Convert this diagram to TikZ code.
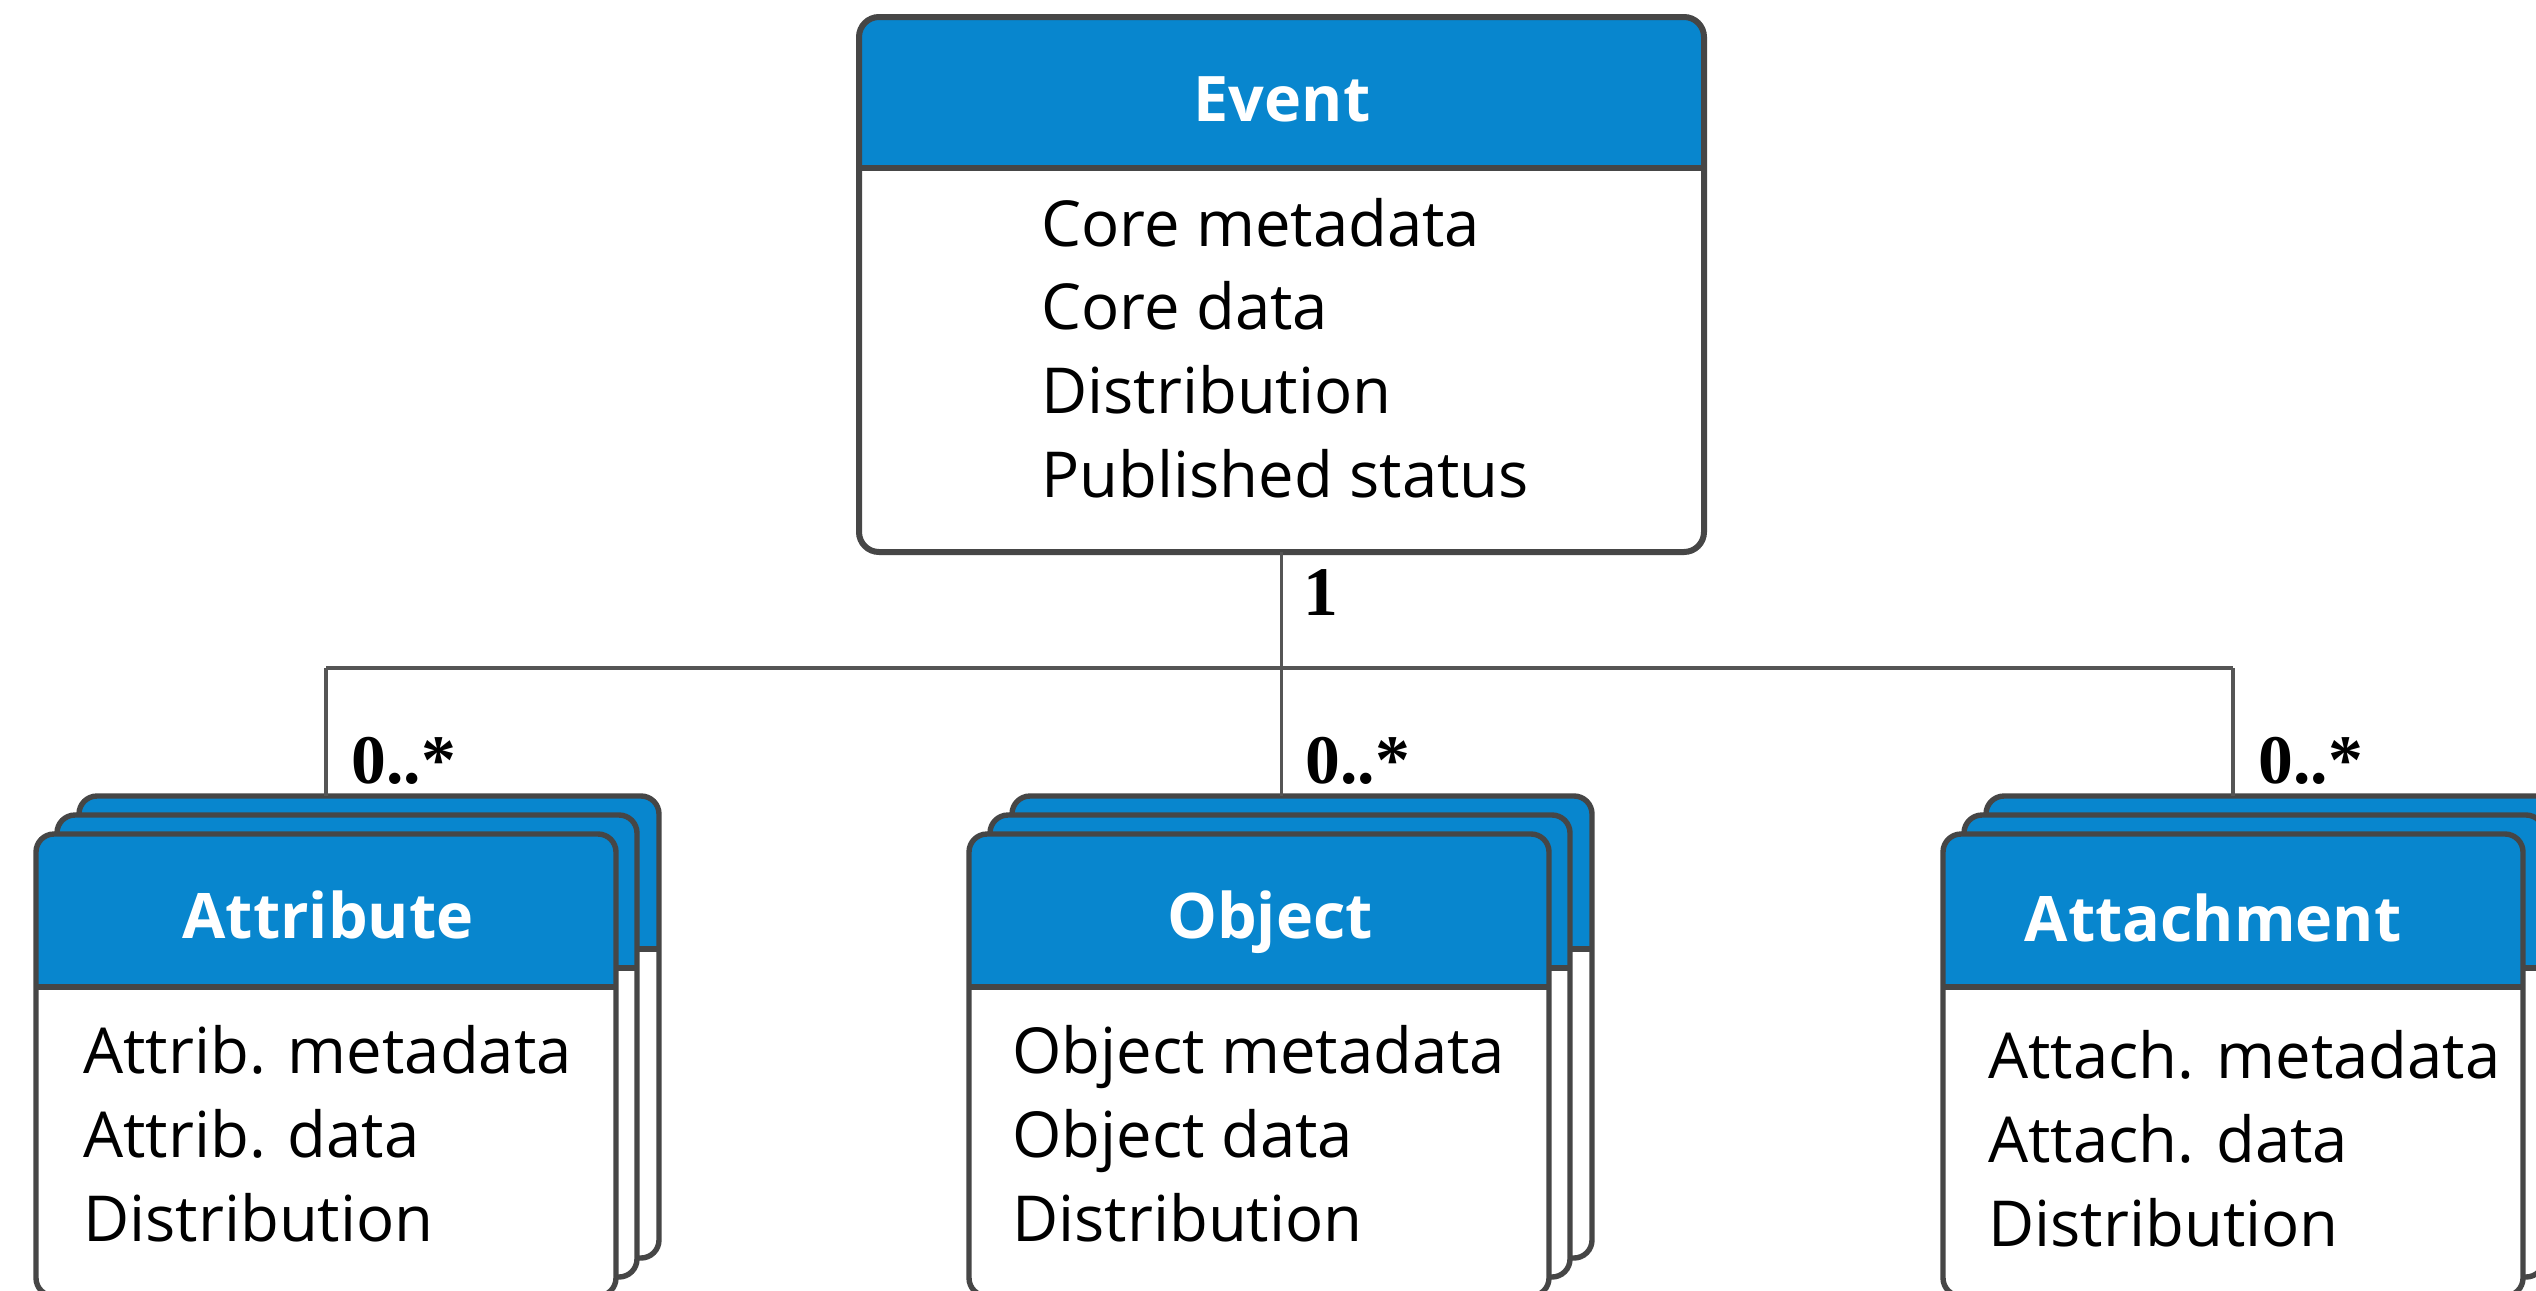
\documentclass[tikz,border=0pt]{standalone}
\usepackage{fontspec}
\newfontfamily\bodyfont{Open Sans}
\newfontfamily\multfont{Liberation Serif}
\definecolor{hdrblue}{RGB}{8,134,206}
\definecolor{edge}{RGB}{70,70,70}
\definecolor{wire}{RGB}{85,85,85}

\begin{document}
\begin{tikzpicture}[x=0.5pt,y=-0.5pt,
  % class box with a blue title band of height #1
  classbox/.style={draw=edge, line width=2.7pt, fill=white, inner sep=0pt, outer sep=0pt,
    anchor=north west,
    path picture={
      \fill[hdrblue, sharp corners] (path picture bounding box.north west)
        rectangle ([yshift=-#1]path picture bounding box.north east);
      \draw[edge, line width=2.7pt, sharp corners]
        ([yshift=-#1]path picture bounding box.north west)
        -- ([yshift=-#1]path picture bounding box.north east);
    }},
  eventbox/.style={classbox=75.5pt, rounded corners=10pt, line width=3pt,
    minimum width=422.5pt, minimum height=267.5pt},
  card/.style={classbox=76.5pt, rounded corners=9pt,
    minimum width=290pt, minimum height=231pt},
  title/.style={anchor=base, inner sep=0pt, text=white,
    font=\bodyfont\bfseries\fontsize{31.4}{37}\selectfont},
  entry/.style={anchor=base west, inner sep=0pt, text=black,
    font=\bodyfont\fontsize{31.7}{37}\selectfont},
  mult/.style={anchor=base west, inner sep=0pt, text=black,
    font=\multfont\bfseries\fontsize{34.8}{40}\selectfont},
  wire/.style={draw=wire, line width=1.9pt}
]
\useasboundingbox[fill=white] (0,0) rectangle (2536,1290);

% Event class
\node[eventbox] (event) at (859,17) {};
\node[title] (eventT) at (1282,121) {Event};
\foreach \t [count=\i from 0] in {Core metadata, Core data, Distribution, Published status}
  \node[entry] (eventL\i) at (1041,246+83.7*\i) {\t};

% level of the association bus
\coordinate (bus) at (1280,668);

% stacked Attribute cards
\node[card] (attrB) at (79,796) {};
\node[card] (attrM) at (57,815) {};
\node[card] (attrF) at (36,834) {};
% stacked Object cards
\node[card] (objB) at (1012,796) {};
\node[card] (objM) at (990,815) {};
\node[card] (objF) at (969,834) {};
% stacked Attachment cards
\node[card] (attB) at (1986,796) {};
\node[card] (attM) at (1964,815) {};
\node[card] (attF) at (1943,834) {};

% connectors: stem, bus and drops to each stack
\draw[wire] (event.south) -- (event.south |- bus);
\draw[wire] (attrF.north |- bus) -- (attF.north |- bus);
\draw[wire] (attrF.north |- bus) -- (attrF.north |- attrB.north);
\draw[wire] (event.south |- bus) -- (event.south |- objB.north);
\draw[wire] (attF.north |- bus) -- (attF.north |- attB.north);

% multiplicities
\node[mult] (m1) at (1303,615) {1};
\node[mult] (mA) at (351,783) {0..*};
\node[mult] (mO) at (1305,783) {0..*};
\node[mult] (mT) at (2258,783) {0..*};

% titles
\node[title] (attrT) at (328,938) {Attribute};
\node[title] (objT) at (1270,938) {Object};
\node[title] (attT) at (2213,941) {Attachment};

% entries
\foreach \t [count=\i from 0] in {Attrib. metadata, Attrib. data, Distribution}
  \node[entry] (attrL\i) at (83,1073+84*\i) {\t};
\foreach \t [count=\i from 0] in {Object metadata, Object data, Distribution}
  \node[entry] (objL\i) at (1012,1073+84*\i) {\t};
\foreach \t [count=\i from 0] in {Attach. metadata, Attach. data, Distribution}
  \node[entry] (attL\i) at (1988,1078+84*\i) {\t};
\end{tikzpicture}
\end{document}
